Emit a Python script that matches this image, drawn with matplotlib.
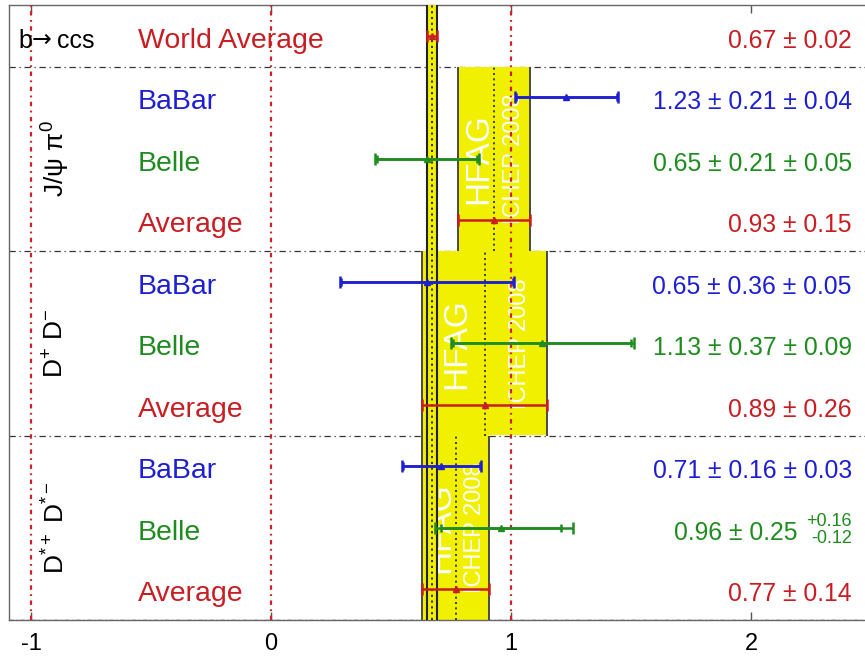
import matplotlib
matplotlib.use("Agg")
import matplotlib.pyplot as plt
import numpy as np

plt.rcParams['font.family'] = ['Liberation Sans', 'DejaVu Sans']
plt.rcParams['mathtext.fontset'] = 'custom'
plt.rcParams['mathtext.rm'] = 'Liberation Sans'
plt.rcParams['mathtext.it'] = 'Liberation Sans:italic'
plt.rcParams['mathtext.bf'] = 'Liberation Sans:bold'
plt.rcParams['mathtext.sf'] = 'Liberation Sans'

# ---------------- data ----------------
row_labels = ['World Average', 'BaBar', 'Belle', 'Average',
              'BaBar', 'Belle', 'Average',
              'BaBar', 'Belle', 'Average']
row_kind = ['avg', 'babar', 'belle', 'avg',
            'babar', 'belle', 'avg',
            'babar', 'belle', 'avg']
central = [0.67, 1.23, 0.65, 0.93, 0.65, 1.13, 0.89, 0.71, 0.96, 0.77]
stat = [0.02, 0.21, 0.21, 0.15, 0.36, 0.37, 0.26, 0.16, 0.25, 0.14]
syst_plus = [0.0, 0.04, 0.05, 0.0, 0.05, 0.09, 0.0, 0.03, 0.16, 0.0]
syst_minus = [0.0, 0.04, 0.05, 0.0, 0.05, 0.09, 0.0, 0.03, 0.12, 0.0]
value_text = ['0.67 ± 0.02', '1.23 ± 0.21 ± 0.04', '0.65 ± 0.21 ± 0.05',
              '0.93 ± 0.15', '0.65 ± 0.36 ± 0.05', '1.13 ± 0.37 ± 0.09',
              '0.89 ± 0.26', '0.71 ± 0.16 ± 0.03', '0.96 ± 0.25',
              '0.77 ± 0.14']
asym_text = {8: ('+0.16', '-0.12')}

group_labels = [r'$\mathrm{J/\psi\ \pi^{0}}$', r'$\mathrm{D^{+}\ D^{-}}$',
                r'$\mathrm{D^{*+}\ D^{*-}}$']
group_rows = [(1, 2, 3), (4, 5, 6), (7, 8, 9)]   # indices into rows; last = average
world_index = 0
xticks = [-1, 0, 1, 2]
xtick_labels = ['-1', '0', '1', '2']

colors = {'avg': '#c81e23', 'babar': '#1e1ed2', 'belle': '#1e8c1e'}
yellow = '#f0f000'

n = len(row_labels)
ypos = np.arange(n, 0, -1)  # 10 .. 1

fig = plt.figure(figsize=(8.65, 6.58), dpi=100)
ax = fig.add_axes([9 / 865, 1 - 620 / 658, (865 - 9) / 865, (620 - 5) / 658])
ax.set_xlim(-1.092, 2.475)
ax.set_ylim(0.5, n + 0.5)

# separators
for g in group_rows:
    ysep = ypos[g[0]] + 0.5
    ax.axhline(ysep, color='#333333', lw=0.9, ls=(0, (5, 3, 1, 3)), zorder=1)

# group bands
for gi, g in enumerate(group_rows):
    ai = g[-1]
    lo = central[ai] - stat[ai]
    hi = central[ai] + stat[ai]
    ytop = ypos[g[0]] + 0.5
    ybot = ypos[g[-1]] - 0.5
    ax.fill_betweenx([ybot, ytop], lo, hi, color=yellow, lw=0, zorder=2)
    ax.vlines([lo, hi], ybot, ytop, color='#4a4a4a', lw=1.4, zorder=2.1)
    ax.vlines([central[ai]], ybot, ytop, color='#222222', lw=1.2,
              linestyles=(0, (1.2, 2.0)), zorder=2.1)
    ymid = (ytop + ybot) / 2
    w = hi - lo
    ax.text(lo + 0.28 * w, ymid, 'HFAG', color='white', fontsize=24,
            rotation=90, ha='center', va='center', zorder=2.5)
    ax.text(lo + 0.78 * w, ymid, 'ICHEP 2008', color='white', fontsize=17,
            rotation=90, ha='center', va='center', zorder=2.5)

# world average band (full height)
wlo = central[world_index] - stat[world_index]
whi = central[world_index] + stat[world_index]
ax.fill_betweenx([0.5, n + 0.5], wlo, whi, color=yellow, lw=0, zorder=3)
ax.vlines([wlo, whi], 0.5, n + 0.5, color='#222222', lw=1.5, zorder=3.1)
ax.vlines([central[world_index]], 0.5, n + 0.5, color='#222222', lw=1.3,
          linestyles=(0, (1.2, 2.0)), zorder=3.1)

# reference red dotted lines
for xv in [-1, 0, 1]:
    ax.axvline(xv, color='#d0202a', lw=1.6, ls=(0, (2.0, 2.0, 0.8, 2.0)), zorder=3.5)

# error bars
for i in range(n):
    c = colors[row_kind[i]]
    tot_p = np.hypot(stat[i], syst_plus[i])
    tot_m = np.hypot(stat[i], syst_minus[i])
    ax.errorbar([central[i]], [ypos[i]], xerr=[[tot_m], [tot_p]], fmt='none',
                ecolor=c, elinewidth=1.8, capsize=4, capthick=1.8, zorder=5)
    if syst_plus[i] > 0:
        ax.errorbar([central[i]], [ypos[i]], xerr=[[stat[i]], [stat[i]]], fmt='none',
                    ecolor=c, elinewidth=1.8, capsize=3, capthick=1.8, zorder=5)
    ax.plot([central[i]], [ypos[i]], marker='^', ms=5, color=c, zorder=6, lw=0)

# row labels and values
dy = -0.08
for i in range(n):
    c = colors[row_kind[i]]
    ax.text(-0.554, ypos[i] + dy, row_labels[i], color=c, fontsize=20.5,
            ha='left', va='center', zorder=7)
    if i in asym_text:
        ax.text(2.195, ypos[i] + dy, value_text[i], color=c, fontsize=17.8,
                ha='right', va='center', zorder=7)
        ax.text(2.42, ypos[i] + 0.1, asym_text[i][0], color=c, fontsize=13,
                ha='right', va='center', zorder=7)
        ax.text(2.42, ypos[i] - 0.17, asym_text[i][1], color=c, fontsize=13,
                ha='right', va='center', zorder=7)
    else:
        ax.text(2.42, ypos[i] + dy, value_text[i], color=c, fontsize=17.8,
                ha='right', va='center', zorder=7)

# b -> ccs
yb = ypos[world_index] + dy
ax.text(-1.054, yb, 'b', color='black', fontsize=18, ha='left', va='center', zorder=7)
ax.text(-0.997, yb + 0.02, '→', color='black', fontsize=17, family='DejaVu Sans',
        ha='left', va='center', zorder=7)
ax.text(-0.893, yb, 'ccs', color='black', fontsize=18, ha='left', va='center', zorder=7)

for gi, g in enumerate(group_rows):
    ymid = (ypos[g[0]] + ypos[g[-1]]) / 2
    ax.text(-0.895, ymid, group_labels[gi], color='black', fontsize=19,
            rotation=90, ha='center', va='center', zorder=7)

# axes styling
ax.set_yticks([])
ax.set_xticks(xticks)
ax.set_xticklabels(xtick_labels, family=['Liberation Sans Narrow', 'Liberation Sans'])
ax.tick_params(axis='x', direction='in', length=6, width=1, colors='#555555',
               labelcolor='black', labelsize=17, pad=9, top=True)
ax.spines['right'].set_visible(False)
for s in ['top', 'left', 'bottom']:
    ax.spines[s].set_color('#666666')
    ax.spines[s].set_linewidth(1.0)
ax.axhline(0.5, color='#333333', lw=1.0, ls=(0, (3, 2, 1, 2)), zorder=1)

fig.savefig('out.png', dpi=100)
